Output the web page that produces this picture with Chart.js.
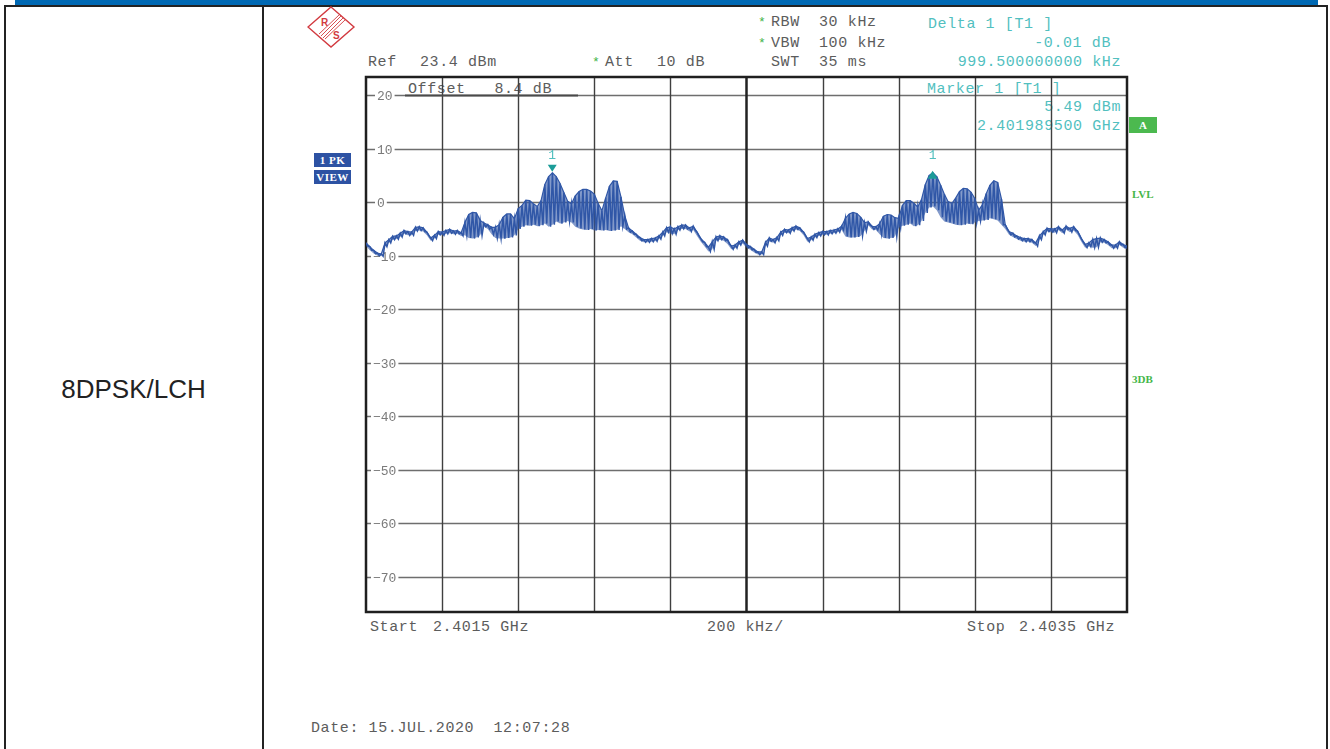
<!DOCTYPE html>
<html lang="en">
<head>
<meta charset="UTF-8">
<title>8DPSK/LCH spectrum</title>
<script src="https://cdn.jsdelivr.net/npm/chart.js"></script>
<style>
    body {
        margin: 0;
        width: 1330px;
        height: 749px;
        overflow: hidden;
        background: #ffffff;
        position: relative;
    }

    .abs { position: absolute; white-space: pre; }

    /* table frame */
    .topbar { left: 15px; top: 0; width: 1303px; height: 5px; background: #0069b4; }
    .rule { background: #232323; }

    .mode {
        left: 4px; width: 259px; top: 372px; height: 34px; line-height: 34px;
        text-align: center; font-family: 'Liberation Sans', Arial, sans-serif;
        font-size: 26px; color: #222;
    }

    /* analyzer texts */
    .t {
        font-family: 'Liberation Mono', monospace;
        font-size: 15px; letter-spacing: 0.6px;
        height: 16px; line-height: 16px; color: #5c5c5c;
    }
    .cy { color: #52bfbf; }
    .star { color: #3fb34a; font-size: 13px; }
    .r { text-align: right; }

    .tag {
        background: #2d52a3; color: #fff; font-family: 'Liberation Serif', serif;
        font-weight: bold; font-size: 11px; text-align: center; letter-spacing: 0.5px;
    }
    .grn { color: #45b649; font-family: 'Liberation Serif', serif; font-weight: bold; font-size: 11px; }

    #chartBox { position: absolute; left: 0; top: 0; width: 1330px; height: 749px; }
</style>
</head>
<body>

<!-- report table frame -->
<div class="abs topbar"></div>
<div class="abs rule" style="left:4px; top:5px; width:1324px; height:2px"></div>
<div class="abs rule" style="left:4px; top:5px; width:2px; height:744px"></div>
<div class="abs rule" style="left:262px; top:5px; width:2px; height:744px"></div>
<div class="abs rule" style="left:1326px; top:5px; width:2px; height:744px"></div>

<div class="abs mode">8DPSK/LCH</div>

<!-- R&S logo -->
<svg class="abs" style="left:307px; top:5px" width="50" height="46" viewBox="307 5 50 46">
    <polygon points="331,7 354,27 331,47 308,27" fill="none" stroke="#d23a40" stroke-width="1.4"/>
    <g stroke="#d23a40" stroke-width="0.9">
        <line x1="321" y1="36" x2="341" y2="16"/>
        <line x1="323" y1="38" x2="343" y2="18"/>
        <line x1="325" y1="39" x2="345" y2="20"/>
        <line x1="319" y1="34" x2="339" y2="15"/>
    </g>
    <text x="321" y="26" font-family="Liberation Sans, Arial" font-weight="bold" font-size="10" fill="#d23a40">R</text>
    <text x="333" y="39" font-family="Liberation Sans, Arial" font-weight="bold" font-size="10" fill="#d23a40">S</text>
</svg>

<!-- header settings -->
<div class="abs t star" style="left:758px; top:15px">*</div>
<div class="abs t" style="left:771px; top:15px">RBW  30 kHz</div>
<div class="abs t star" style="left:758px; top:36px">*</div>
<div class="abs t" style="left:771px; top:36px">VBW  100 kHz</div>
<div class="abs t" style="left:771px; top:55px">SWT  35 ms</div>
<div class="abs t" style="left:368px; top:55px">Ref</div>
<div class="abs t" style="left:420px; top:55px">23.4 dBm</div>
<div class="abs t star" style="left:592px; top:55px">*</div>
<div class="abs t" style="left:605px; top:55px">Att</div>
<div class="abs t" style="left:657px; top:55px">10 dB</div>

<div class="abs t cy" style="left:928px; top:17px">Delta 1 [T1 ]</div>
<div class="abs t cy r" style="right:219px; top:36px">-0.01 dB</div>
<div class="abs t cy r" style="right:209px; top:55px">999.500000000 kHz</div>

<div class="abs t cy" style="left:927px; top:82px">Marker 1 [T1 ]</div>
<div class="abs t cy r" style="right:209px; top:100px">5.49 dBm</div>
<div class="abs t cy r" style="right:209px; top:119px">2.401989500 GHz</div>

<div class="abs t" style="left:408px; top:82px">Offset   8.4 dB</div>

<!-- side tags -->
<div class="abs tag" style="left:314px; top:153px; width:37px; height:14px; line-height:14px">1 PK</div>
<div class="abs tag" style="left:314px; top:170px; width:37px; height:14px; line-height:14px">VIEW</div>
<div class="abs" style="left:1129px; top:117px; width:28px; height:16px; line-height:16px; background:#4cb94f; color:#fff; text-align:center; font-family:'Liberation Serif', serif; font-weight:bold; font-size:11px">A</div>
<div class="abs grn" style="left:1132px; top:187px; height:14px; line-height:14px">LVL</div>
<div class="abs grn" style="left:1132px; top:372px; height:14px; line-height:14px">3DB</div>

<!-- footer texts -->
<div class="abs t" style="left:370px; top:620px">Start</div>
<div class="abs t" style="left:433px; top:620px">2.4015 GHz</div>
<div class="abs t" style="left:707px; top:620px">200 kHz/</div>
<div class="abs t" style="left:967px; top:620px">Stop</div>
<div class="abs t" style="left:1019px; top:620px">2.4035 GHz</div>
<div class="abs t" style="left:311px; top:721px">Date: 15.JUL.2020  12:07:28</div>

<div id="chartBox"><canvas id="spectrum" width="1330" height="749"></canvas></div>

<script>
    // sweep: 2.4015 GHz .. 2.4035 GHz, 10 kHz per trace column
    const sweepStartMHz = 2401.5;
    const sweepStopMHz = 2403.5;
    const sweepStepMHz = 0.01;

    // dBm, max of each trace column
    const traceMax = [
        -7.6, -8.3, -9.0, -9.5, -9.7, -7.6, -7.0, -6.4, -6.3, -5.8,
        -5.3, -5.5, -5.6, -4.7, -4.6, -4.8, -5.6, -6.7, -6.2, -5.5,
        -5.6, -5.3, -5.1, -5.4, -5.3, -5.7, -3.8, -2.3, -1.9, -2.0,
        -3.4, -3.9, -4.2, -4.7, -4.7, -4.2, -2.8, -2.2, -2.2, -3.1,
        -1.2, -0.6, 0.4, 0.3, -0.3, -0.8, 0.3, 3.3, 4.8, 5.49,
        4.8, 3.5, 1.8, 0.2, -0.3, 1.2, 2.0, 2.4, 2.4, 2.1,
        1.5, -0.2, -1.6, 0.8, 3.0, 4.0, 3.9, 1.0, -2.5, -4.8,
        -5.4, -6.0, -6.6, -7.0, -7.0, -6.8, -6.7, -6.3, -5.6, -4.8,
        -4.6, -5.0, -4.6, -4.3, -4.3, -4.8, -4.5, -5.6, -6.8, -7.5,
        -8.4, -7.4, -6.5, -6.3, -6.5, -7.0, -8.2, -8.0, -7.4, -7.1,
        -7.9, -8.3, -8.8, -9.3, -9.3, -7.5, -6.7, -7.0, -6.6, -5.6,
        -5.1, -5.2, -4.8, -4.5, -4.8, -5.6, -6.8, -6.5, -6.0, -5.7,
        -5.5, -5.5, -5.3, -5.2, -5.0, -4.5, -3.0, -2.2, -1.9, -2.1,
        -2.8, -3.8, -3.7, -4.5, -4.6, -4.0, -2.6, -2.3, -2.4, -2.9,
        -3.0, -0.6, 0.3, 0.3, -0.2, -0.9, 0.5, 3.3, 5.0, 5.48,
        4.8, 3.2, 1.5, 0.1, -0.2, 0.8, 2.0, 2.6, 2.5, 1.9,
        0.7, -1.5, -0.5, 1.6, 3.2, 4.0, 3.7, 0.6, -4.2, -5.5,
        -5.8, -6.3, -6.6, -6.8, -6.8, -7.0, -7.6, -6.3, -5.5, -4.9,
        -5.0, -5.0, -4.6, -5.2, -4.5, -4.9, -4.6, -5.4, -6.8, -7.9,
        -7.6, -7.0, -6.8, -6.7, -7.0, -7.4, -8.0, -8.0, -7.4, -7.9,
        -8.2
    ];

    // dBm, min of each trace column
    const traceMin = [
        -8.2, -9.0, -9.6, -10.0, -10.1, -8.3, -7.6, -7.0, -6.9, -6.5,
        -5.9, -6.2, -6.2, -5.4, -5.3, -5.5, -6.2, -7.2, -6.8, -6.1,
        -6.2, -5.9, -5.8, -6.0, -5.9, -6.3, -6.2, -6.7, -6.8, -6.6,
        -6.2, -4.6, -5.0, -6.0, -6.7, -6.8, -6.8, -6.7, -6.6, -6.2,
        -5.0, -4.6, -4.3, -4.4, -4.2, -4.5, -4.3, -4.0, -4.6, -4.2,
        -3.6, -4.0, -3.8, -3.5, -3.8, -4.6, -4.9, -5.1, -5.2, -5.0,
        -5.3, -5.2, -5.3, -5.2, -5.4, -5.3, -5.2, -4.5, -5.0, -5.6,
        -6.0, -6.6, -7.2, -7.5, -7.5, -7.4, -7.3, -6.9, -6.3, -5.6,
        -5.9, -6.0, -5.2, -5.0, -5.0, -5.5, -5.2, -6.3, -7.4, -8.3,
        -9.2, -8.8, -7.2, -7.0, -7.2, -7.8, -8.8, -8.6, -8.0, -7.7,
        -8.5, -8.9, -9.4, -9.8, -9.8, -8.2, -7.3, -7.6, -7.2, -6.2,
        -5.7, -5.8, -5.4, -5.1, -5.4, -6.2, -7.4, -7.1, -6.6, -6.3,
        -6.1, -6.1, -5.9, -5.8, -5.6, -5.2, -6.4, -6.6, -6.6, -6.5,
        -6.3, -5.4, -4.3, -5.1, -5.2, -6.0, -6.7, -6.8, -6.7, -6.4,
        -4.8, -4.4, -4.2, -4.0, -4.5, -4.3, -3.5, -2.0, -1.0, -0.8,
        -1.5, -2.8, -3.6, -3.8, -4.0, -4.2, -4.3, -4.2, -4.0, -4.1,
        -3.8, -3.5, -3.4, -3.3, -3.0, -3.2, -3.4, -4.2, -5.0, -6.1,
        -6.5, -6.9, -7.2, -7.4, -7.4, -7.6, -8.2, -7.0, -6.1, -5.5,
        -5.6, -5.7, -5.2, -5.8, -5.1, -5.6, -5.3, -6.1, -7.4, -8.5,
        -8.3, -8.5, -8.4, -7.5, -7.6, -8.0, -8.6, -8.6, -8.0, -8.5,
        -8.8
    ];

    // marker 1 and delta marker 1
    const markerFreqs = [2401.9895, 2402.989];
    const markerLevels = [5.49, 5.48];

    // grid / screen
    const refLevel = 23.4;
    const bottomLevel = -76.6;
    const yGridLevels = [20, 10, 0, -10, -20, -30, -40, -50, -60, -70];
    const xGridFreqs = [2401.7, 2401.9, 2402.1, 2402.3, 2402.7, 2402.9, 2403.1, 2403.3];
    const centerFreq = 2402.5;

    // max at the column, min half a column later -> dense zigzag like the analyzer trace
    const tracePoints = [];
    const maxPoints = [];
    const minPoints = [];
    traceMax.forEach((v, k) => {
        const f = sweepStartMHz + k * sweepStepMHz;
        tracePoints.push({x: f, y: v});
        maxPoints.push({x: f, y: v});
        minPoints.push({x: f, y: traceMin[k]});
        if (k < traceMax.length - 1) {
            tracePoints.push({x: f + sweepStepMHz / 2, y: traceMin[k]});
        }
    });

    function seg(ctx, x1, y1, x2, y2) {
        ctx.beginPath();
        ctx.moveTo(x1, y1);
        ctx.lineTo(x2, y2);
        ctx.stroke();
    }

    const screenGrid = {
        id: 'screenGrid',
        beforeDatasetsDraw(chart) {
            const {ctx, chartArea: a, scales: {x, y}} = chart;
            ctx.save();

            ctx.lineWidth = 1.4;
            ctx.strokeStyle = '#6e6e6e';
            yGridLevels.forEach(v => {
                const py = Math.round(y.getPixelForValue(v)) + 0.5;
                seg(ctx, a.left, py, a.right, py);
            });

            ctx.strokeStyle = '#3f3f3f';
            xGridFreqs.forEach(f => {
                const px = Math.round(x.getPixelForValue(f)) + 0.5;
                seg(ctx, px, a.top, px, a.bottom);
            });

            // centre line
            ctx.lineWidth = 2.5;
            ctx.strokeStyle = '#222';
            const cx = x.getPixelForValue(centerFreq);
            seg(ctx, cx, a.top, cx, a.bottom);

            // line under the offset readout
            ctx.lineWidth = 2;
            ctx.strokeStyle = '#4a4a4a';
            const p20 = Math.round(y.getPixelForValue(20)) + 0.5;
            seg(ctx, a.left + 39, p20, a.left + 212, p20);

            // frame
            ctx.lineWidth = 2.5;
            ctx.strokeStyle = '#1f1f1f';
            ctx.strokeRect(a.left, a.top, a.right - a.left, a.bottom - a.top);

            // level labels sitting on the grid lines
            ctx.font = '13px "Liberation Mono", monospace';
            ctx.textBaseline = 'middle';
            yGridLevels.forEach(v => {
                const py = Math.round(y.getPixelForValue(v)) + 0.5;
                const label = v < 0 ? '\u2212' + Math.abs(v) : String(v);
                const w = ctx.measureText(label).width;
                const lx = a.left + (v < 0 ? 7 : 11);
                ctx.fillStyle = '#ffffff';
                ctx.fillRect(lx - 2, py - 6, w + 4, 12);
                ctx.fillStyle = '#7a7a7a';
                ctx.fillText(label, lx, py + 1);
            });
            ctx.restore();
        },
        afterDatasetsDraw(chart) {
            const {ctx, scales: {x, y}} = chart;
            ctx.save();
            ctx.fillStyle = '#1b9c98';
            ctx.font = '13px "Liberation Mono", monospace';
            ctx.textAlign = 'center';
            ctx.textBaseline = 'middle';

            // marker 1: triangle pointing down onto the peak
            let mx = x.getPixelForValue(markerFreqs[0]);
            let my = y.getPixelForValue(markerLevels[0]);
            ctx.beginPath();
            ctx.moveTo(mx - 4.5, my - 8);
            ctx.lineTo(mx + 4.5, my - 8);
            ctx.lineTo(mx, my - 1);
            ctx.closePath();
            ctx.fill();
            ctx.fillStyle = '#52bfbf';
            ctx.fillText('1', mx, my - 17);

            // delta marker 1: triangle pointing up
            mx = x.getPixelForValue(markerFreqs[1]);
            my = y.getPixelForValue(markerLevels[1]);
            ctx.fillStyle = '#1b9c98';
            ctx.beginPath();
            ctx.moveTo(mx - 5, my + 6);
            ctx.lineTo(mx + 5, my + 6);
            ctx.lineTo(mx, my - 2);
            ctx.closePath();
            ctx.fill();
            ctx.fillStyle = '#52bfbf';
            ctx.fillText('1', mx, my - 17);
            ctx.restore();
        }
    };

    const ctx = document.getElementById('spectrum').getContext('2d');
    const spectrumChart = new Chart(ctx, {
        type: 'line',
        data: {
            datasets: [{
                label: 'Trace 1',
                data: tracePoints,
                borderColor: '#3057a7',
                borderWidth: 1.5,
                pointRadius: 0,
                tension: 0,
                fill: false
            }, {
                label: 'Column max',
                data: maxPoints,
                borderColor: '#3057a7',
                borderWidth: 1.2,
                backgroundColor: 'rgba(48, 87, 167, 0.6)',
                pointRadius: 0,
                tension: 0,
                fill: '+1'
            }, {
                label: 'Column min',
                data: minPoints,
                borderWidth: 0,
                pointRadius: 0,
                tension: 0,
                fill: false
            }]
        },
        options: {
            responsive: false,
            animation: false,
            events: [],
            layout: {padding: {left: 366, top: 77, right: 203, bottom: 137}},
            plugins: {legend: {display: false}, tooltip: {enabled: false}},
            scales: {
                x: {type: 'linear', display: false, min: sweepStartMHz, max: sweepStopMHz},
                y: {type: 'linear', display: false, min: bottomLevel, max: refLevel}
            }
        },
        plugins: [screenGrid]
    });
</script>
</body>
</html>
